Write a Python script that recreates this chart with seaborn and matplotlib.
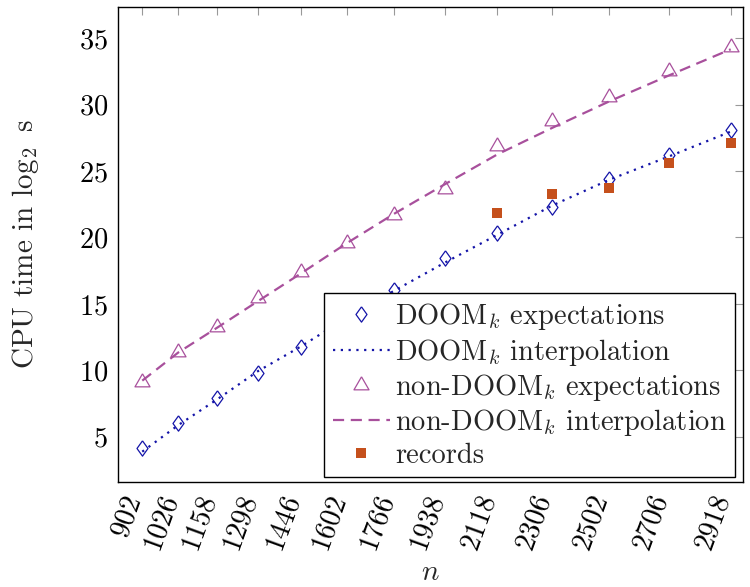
import matplotlib
matplotlib.use("Agg")
import matplotlib.pyplot as plt
import matplotlib.transforms as mtransforms
import seaborn as sns
import pandas as pd

# problem sizes
n = [902, 1026, 1158, 1298, 1446, 1602, 1766, 1938, 2118, 2306, 2502, 2706, 2918]

# CPU time (log2 seconds)
doom_exp = [4.13, 6.05, 7.94, 9.82, 11.73, 13.9, 16.05, 18.43, 20.32, 22.32, 24.4, 26.21, 28.1]
doom_interp = [3.87, 5.88, 7.80, 9.93, 11.80, 13.95, 16.0, 18.1, 20.2, 22.4, 24.35, 26.1, 27.97]
nondoom_exp = [9.14, 11.4, 13.28, 15.42, 17.38, 19.56, 21.7, 23.63, 26.9, 28.8, 30.6, 32.54, 34.37]
nondoom_interp = [9.22, 11.35, 13.2, 15.2, 17.3, 19.56, 21.8, 24.0, 26.25, 28.25, 30.25, 32.2, 34.17]

record_n = [2118, 2306, 2502, 2706, 2918]
records = [21.87, 23.25, 23.7, 25.63, 27.14]

yticks = [5, 10, 15, 20, 25, 30, 35]

BLUE = "#1414a8"
PURPLE = "#a8509c"
ORANGE = "#c5501c"

sns.set_style("white")
plt.rcParams["font.family"] = ["cmr10", "DejaVu Serif"]
plt.rcParams["mathtext.fontset"] = "cm"
plt.rcParams["axes.formatter.use_mathtext"] = True
plt.rcParams["axes.unicode_minus"] = False

df = pd.DataFrame({"n": n, "doom_exp": doom_exp, "doom_interp": doom_interp,
                   "nondoom_exp": nondoom_exp, "nondoom_interp": nondoom_interp})
rec = pd.DataFrame({"n": record_n, "t": records})

fig = plt.figure(figsize=(7.5, 5.87), dpi=100)
ax = fig.add_axes([0.157, 0.1794, 0.834, 0.8092])

diamond = [(0, 1), (0.72, 0), (0, -1), (-0.72, 0), (0, 1)]
triangle = [(0, 1), (0.866, -0.5), (-0.866, -0.5), (0, 1)]

sns.lineplot(data=df, x="n", y="doom_exp", ax=ax, linestyle="", marker=diamond,
             markersize=11, markerfacecolor="none", markeredgecolor=BLUE,
             markeredgewidth=0.9, label="DOOM$_k$ expectations", zorder=3)
sns.lineplot(data=df, x="n", y="doom_interp", ax=ax, color=BLUE, linewidth=1.6,
             linestyle=(0, (1, 2.5)), label="DOOM$_k$ interpolation", zorder=2)
sns.lineplot(data=df, x="n", y="nondoom_exp", ax=ax, linestyle="", marker=triangle,
             markersize=12.5, markerfacecolor="none", markeredgecolor=PURPLE,
             markeredgewidth=0.9, label="non-DOOM$_k$ expectations", zorder=3)
sns.lineplot(data=df, x="n", y="nondoom_interp", ax=ax, color=PURPLE, linewidth=1.6,
             linestyle=(0, (5, 3)), label="non-DOOM$_k$ interpolation", zorder=2)
sns.lineplot(data=rec, x="n", y="t", ax=ax, linestyle="", marker="s", markersize=6.8,
             markerfacecolor=ORANGE, markeredgewidth=0, color=ORANGE,
             label="records", zorder=3)

ax.set_xlim(818, 2961)
ax.set_ylim(1.61, 37.38)
ax.set_xticks(n)
ax.set_yticks(yticks)
ax.tick_params(axis="both", which="major", direction="in", length=6, width=0.8,
               color="#999999", top=True, right=True, labelsize=20.5, pad=7,
               labelcolor="black")
ax.tick_params(axis="x", pad=6)
ax.set_xticklabels([str(v) for v in n], rotation=70, ha="right", va="center",
                   rotation_mode="anchor")

# nudge the rotated tick labels a little left and down
shift = mtransforms.ScaledTranslation(-0.08, -0.05, fig.dpi_scale_trans)
for lbl in ax.get_xticklabels():
    lbl.set_transform(lbl.get_transform() + shift)

for s in ax.spines.values():
    s.set_visible(True)
    s.set_color("black")
    s.set_linewidth(1.0)

ax.set_xlabel("$n$", fontsize=21, labelpad=5)
ax.set_ylabel("CPU time in $\\log_2$ s", fontsize=21, labelpad=27)

handles, labels = ax.get_legend_handles_labels()
leg = ax.legend(handles, labels, loc="lower right", bbox_to_anchor=(0.9874, 0.0093),
                borderaxespad=0, fontsize=20.5, frameon=True, fancybox=False,
                framealpha=1, edgecolor="black", handlelength=2.0,
                handletextpad=0.2, labelspacing=0.15, borderpad=0.3)
leg.get_frame().set_linewidth(1.0)
leg.set_zorder(5)

fig.savefig("out.png", dpi=100)
